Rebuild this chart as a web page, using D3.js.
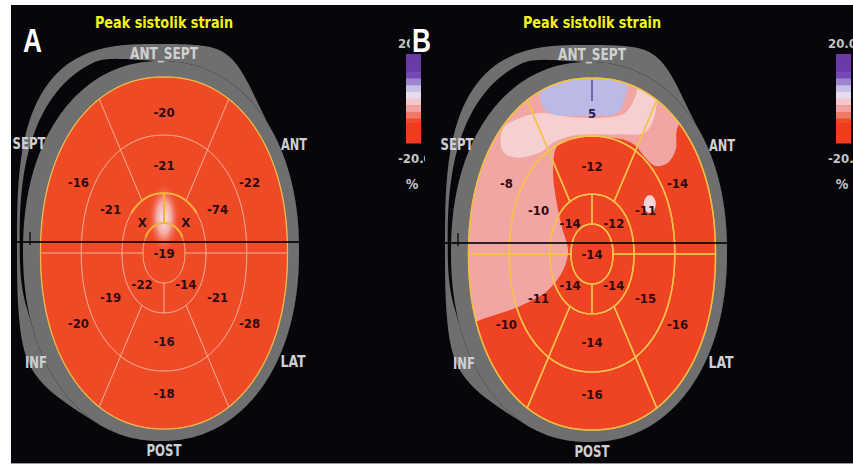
<!DOCTYPE html>
<html>
<head>
<meta charset="utf-8">
<script src="https://cdn.jsdelivr.net/npm/d3@7"></script>
<style>
  html, body { margin: 0; padding: 0; background: #fff; }
  svg { display: block; }
</style>
</head>
<body>
<div id="chart"></div>
<script>
// ---- data ----
const title = "Peak sistolik strain";
const panelNames = ["A", "B"];
const wallNames = ["ANT_SEPT", "ANT", "LAT", "POST", "INF", "SEPT"];
const wallAngles = [90, 30, -30, -90, -150, 150];     // centre of each basal / mid segment
const apicalAngles = [135, 45, -45, -135];
const ringRadii = [0.17, 0.34, 0.67, 1];               // apex, apical, mid, basal

// panel A (segment values, order follows wallAngles / apicalAngles)
const basalA = [-20, -22, -28, -18, -20, -16];
const midA = [-21, -74, -21, -16, -19, -21];
const apicalA = ["X", "X", -14, -22];
const apexA = -19;

// panel B
const basalB = [5, -14, -16, -16, -10, -8];
const midB = [-12, -11, -15, -14, -11, -10];
const apicalB = [-14, -12, -14, -14];
const apexB = -14;

// colour bar
const barTicks = ["20.0", "-20.0"];
const barEdges = [20, 12, 9, 6, 3, 0, -3, -6, -9, -11, -20];
const barColors = ["#6b3aa9", "#7648b6", "#9c86ce", "#c8bfe6", "#e6dcec",
                   "#f5c6c8", "#f2a2a2", "#ef7868", "#ee4a2a", "#ee3c1c"];

// strain patches seen in panel B, in normalised map coordinates (u, v)
const pinkPatch = [[-1.23, 1.22], [0.79, 1.22], [0.87, 0.875], [0.694, 0.722], [0.677, 0.591],
  [0.613, 0.517], [0.516, 0.5], [0.435, 0.545], [0.355, 0.614], [0.266, 0.648], [0.065, 0.665],
  [-0.161, 0.659], [-0.282, 0.614], [-0.315, 0.477], [-0.29, 0.307], [-0.242, 0.148],
  [-0.194, 0.023], [-0.226, -0.08], [-0.355, -0.205], [-0.581, -0.295], [-0.863, -0.364],
  [-1.23, -0.432]];
const palePatch = [[-0.718, 0.716], [-0.581, 0.773], [-0.403, 0.801], [-0.177, 0.778],
  [0.065, 0.773], [0.266, 0.801], [0.355, 0.903], [0.387, 1.05], [0.508, 1.05], [0.508, 0.79],
  [0.427, 0.69], [0.226, 0.68], [-0.137, 0.675], [-0.298, 0.64], [-0.419, 0.578],
  [-0.621, 0.548], [-0.726, 0.59]];
const lavenderPatch = [[-0.395, 1.05], [-0.41, 0.86], [-0.34, 0.80], [-0.016, 0.785],
  [0.2, 0.80], [0.258, 0.86], [0.26, 1.05]];
const paleSpot = [0.468, 0.284];
const glowA = [0, 0.2];

const panelData = [
  {basal: basalA, mid: midA, apical: apicalA, apex: apexA},
  {basal: basalB, mid: midB, apical: apicalB, apex: apexB}
];

// ---- layout ----
const W = 853, H = 466;
const layout = [
  {cx: 164, cy: 253, letterX: 23, barX: 406, red: "#ef4a26", line: "#fbb89c", lineW: 1, lineOp: 0.55},
  {cx: 592, cy: 254, letterX: 412, barX: 836, red: "#ee4424", line: "#f5c24a", lineW: 1.5, lineOp: 0.9}
];
const wallPos = {ANT_SEPT: [0, -199], ANT: [130, -108], LAT: [129, 109], POST: [0, 198], INF: [-128, 110], SEPT: [-135, -109]};
const wallLen = {ANT_SEPT: 68, ANT: 26, LAT: 25, POST: 35, INF: 22, SEPT: 33};
const narrow = "'Liberation Sans Narrow','DejaVu Sans Condensed','Arial Narrow',sans-serif";

const svg = d3.select("#chart").append("svg").attr("width", W).attr("height", H);
const defs = svg.append("defs");

svg.append("rect").attr("width", W).attr("height", H).attr("fill", "#fff");
svg.append("rect").attr("x", 11).attr("y", 5).attr("width", W - 11).attr("height", 458).attr("fill", "#07070b");
svg.append("line").attr("x1", 11).attr("x2", W).attr("y1", 463.5).attr("y2", 463.5)
  .attr("stroke", "#9a9a9a").attr("stroke-width", 1);

// superellipse direction for angle t (degrees)
function unit(t, n) {
  const a = t * Math.PI / 180, c = Math.cos(a), s = Math.sin(a);
  return [Math.sign(c) * Math.pow(Math.abs(c), 2 / n), Math.sign(s) * Math.pow(Math.abs(s), 2 / n)];
}
function smooth(k) { return k * k * (3 - 2 * k); }
function bump(t, a0, a1, b0, b1) {
  if (t <= a0 || t >= b1) return 0;
  if (t < a1) return smooth((t - a0) / (a1 - a0));
  if (t > b0) return smooth((b1 - t) / (b1 - b0));
  return 1;
}
const N_MAP = 2.15;
const line = d3.line();

panelNames.forEach((name, i) => {
  const L = layout[i], D = panelData[i];
  const g = svg.append("g");
  const x = d3.scaleLinear().domain([-1, 1]).range([L.cx - 123.5, L.cx + 123.5]);
  const y = d3.scaleLinear().domain([-1, 1]).range([L.cy + 176, L.cy - 176]);

  // grey rim: main ring and the outer shell on the upper left
  const mainGrey = t => { const p = unit(t, N_MAP); return [L.cx - 3 + 138 * p[0], L.cy - 2 - 190 * p[1]]; };
  const outerArc = t => { const p = unit(t, 3); return [L.cx - 4 + 143 * p[0], L.cy - 6 - 203 * p[1]]; };
  const ts = d3.range(0, 360, 1);
  const blend = (f) => ts.map(t => {
    const a = mainGrey(t), b = outerArc(t), k = f(t);
    return [a[0] + (b[0] - a[0]) * k, a[1] + (b[1] - a[1]) * k];
  });
  g.append("path").attr("d", line(blend(t => bump(t, 38, 80, 195, 245))) + "Z").attr("fill", "#6f6f6f");
  g.append("path").attr("d", line(blend(t => 0.58 * bump(t, 90, 112, 176, 202))) + "Z").attr("fill", "#07070b");
  g.append("path").attr("d", line(ts.map(mainGrey)) + "Z").attr("fill", "#6f6f6f");

  // segment geometry
  function sector(r0, r1, t0, t1) {
    const steps = Math.max(8, Math.round(Math.abs(t1 - t0) / 2));
    const pts = [];
    for (let k = 0; k <= steps; k++) {
      const p = unit(t0 + (t1 - t0) * k / steps, N_MAP);
      pts.push([x(p[0] * r1), y(p[1] * r1)]);
    }
    for (let k = steps; k >= 0 && r0 > 0; k--) {
      const p = unit(t0 + (t1 - t0) * k / steps, N_MAP);
      pts.push([x(p[0] * r0), y(p[1] * r0)]);
    }
    return line(pts) + "Z";
  }
  const segs = [];
  wallAngles.forEach((a, k) => {
    segs.push({d: sector(ringRadii[2], ringRadii[3], a - 30, a + 30), v: D.basal[k], a: a, r: 0.8});
    segs.push({d: sector(ringRadii[1], ringRadii[2], a - 30, a + 30), v: D.mid[k], a: a, r: 0.5});
  });
  apicalAngles.forEach((a, k) => {
    segs.push({d: sector(ringRadii[0], ringRadii[1], a - 45, a + 45), v: D.apical[k], a: a, r: 0.25});
  });
  segs.push({d: sector(0, ringRadii[0], 0, 360), v: D.apex, a: 0, r: 0});

  g.selectAll("path.seg").data(segs).join("path").attr("class", "seg")
    .attr("d", d => d.d).attr("fill", L.red);

  const clipId = "map" + name;
  defs.append("clipPath").attr("id", clipId).append("path").attr("d", sector(0, 1, 0, 360));
  const patches = g.append("g").attr("clip-path", `url(#${clipId})`);
  const blob = d3.line().x(d => x(d[0])).y(d => y(d[1])).curve(d3.curveCatmullRomClosed.alpha(0.5));

  if (name === "B") {
    patches.append("path").attr("d", blob(pinkPatch)).attr("fill", "#f1a6a4");
    patches.append("path").attr("d", blob(palePatch)).attr("fill", "#f6d0d0");
    patches.append("path").attr("d", blob(lavenderPatch)).attr("fill", "#bdb9e6");
    patches.append("ellipse").attr("cx", x(paleSpot[0])).attr("cy", y(paleSpot[1]))
      .attr("rx", 6).attr("ry", 9).attr("fill", "#f6d4d8");
    // marker inside the lavender patch
    patches.append("line").attr("x1", x(0)).attr("x2", x(0)).attr("y1", y(0.99)).attr("y2", y(0.87))
      .attr("stroke", "#5a4c9c").attr("stroke-width", 1.5);
  } else {
    const grad = defs.append("radialGradient").attr("id", "glowA");
    grad.append("stop").attr("offset", "0%").attr("stop-color", "#fff2f2").attr("stop-opacity", 0.95);
    grad.append("stop").attr("offset", "45%").attr("stop-color", "#f6b4b2").attr("stop-opacity", 0.9);
    grad.append("stop").attr("offset", "100%").attr("stop-color", L.red).attr("stop-opacity", 0);
    patches.append("ellipse").attr("cx", x(glowA[0])).attr("cy", y(glowA[1]))
      .attr("rx", 16).attr("ry", 36).attr("fill", "url(#glowA)");
  }

  // segment outlines
  g.selectAll("path.edge").data(segs).join("path").attr("class", "edge")
    .attr("d", d => d.d).attr("fill", "none")
    .attr("stroke", L.line).attr("stroke-width", L.lineW).attr("stroke-opacity", L.lineOp);
  g.append("path").attr("d", sector(0, 1, 0, 360)).attr("fill", "none")
    .attr("stroke", "#f0c040").attr("stroke-width", 1.2).attr("stroke-opacity", 0.9);

  if (name === "A") {
    const arc = (r, t0, t1) => line(d3.range(t0, t1 + 1, 2).map(t => {
      const p = unit(t, N_MAP); return [x(p[0] * r), y(p[1] * r)];
    }));
    const hl = g.append("g").attr("fill", "none").attr("stroke", "#f4b23c").attr("stroke-width", 2);
    hl.append("path").attr("d", arc(ringRadii[1], 40, 140));
    hl.append("path").attr("d", arc(ringRadii[0], 30, 150));
    hl.append("line").attr("x1", x(0)).attr("x2", x(0))
      .attr("y1", y(ringRadii[0])).attr("y2", y(ringRadii[1]));
  }

  // dark horizontal line and tick
  g.append("line").attr("x1", L.cx - 147).attr("x2", L.cx + 136)
    .attr("y1", L.cy - 11).attr("y2", L.cy - 11)
    .attr("stroke", "#000").attr("stroke-opacity", 0.8).attr("stroke-width", 2);
  g.append("line").attr("x1", L.cx - 134).attr("x2", L.cx - 134)
    .attr("y1", L.cy - 21).attr("y2", L.cy - 8)
    .attr("stroke", "#000").attr("stroke-opacity", 0.8).attr("stroke-width", 1.5);

  // segment values
  g.selectAll("text.val").data(segs).join("text").attr("class", "val")
    .attr("x", d => x(d.r * Math.cos(d.a * Math.PI / 180)))
    .attr("y", d => y(d.r * Math.sin(d.a * Math.PI / 180)))
    .attr("dy", "0.36em").attr("text-anchor", "middle")
    .attr("font-family", narrow).attr("font-weight", "bold").attr("font-size", 13)
    .attr("fill", d => (d.v > 0 ? "#1e1e50" : "#300a10"))
    .text(d => d.v);

  // wall names
  g.selectAll("text.wall").data(wallNames).join("text").attr("class", "wall")
    .attr("x", d => L.cx + wallPos[d][0]).attr("y", d => L.cy + wallPos[d][1])
    .attr("dy", "0.36em").attr("text-anchor", "middle")
    .attr("font-family", narrow).attr("font-weight", "bold").attr("font-size", 15)
    .attr("textLength", d => wallLen[d]).attr("lengthAdjust", "spacingAndGlyphs")
    .attr("fill", "#d0d0d0").text(d => d);

  // title
  g.append("text").attr("x", L.cx).attr("y", 28).attr("text-anchor", "middle")
    .attr("font-family", narrow).attr("font-weight", "bold").attr("font-size", 16)
    .attr("textLength", 138).attr("lengthAdjust", "spacingAndGlyphs")
    .attr("fill", "#f3f31c").text(title);

  // colour bar
  const cb = g.append("g");
  if (name === "A") {
    defs.append("clipPath").attr("id", "cbA").append("rect").attr("x", 0).attr("y", 0).attr("width", 425).attr("height", H);
    cb.attr("clip-path", "url(#cbA)");
  }
  const by = d3.scaleLinear().domain([20, -20]).range([54, 143]);
  cb.selectAll("rect").data(barColors).join("rect")
    .attr("x", L.barX).attr("width", 15)
    .attr("y", (d, k) => by(barEdges[k]))
    .attr("height", (d, k) => by(barEdges[k + 1]) - by(barEdges[k]) + 0.5)
    .attr("fill", d => d);
  cb.selectAll("text.tick").data(barTicks).join("text").attr("class", "tick")
    .attr("x", L.barX - 8).attr("y", (d, k) => (k === 0 ? by(20) - 11 : by(-20) + 15))
    .attr("dy", "0.36em")
    .attr("font-family", narrow).attr("font-weight", "bold").attr("font-size", 13)
    .attr("fill", "#c4c4c4").text(d => d);
  cb.append("text").attr("x", L.barX + 6).attr("y", 184).attr("dy", "0.36em").attr("text-anchor", "middle")
    .attr("font-family", narrow).attr("font-weight", "bold").attr("font-size", 14)
    .attr("fill", "#c4c4c4").text("%");
});

// panel letters (B sits over the colour bar label of panel A)
svg.append("rect").attr("x", 410).attr("y", 27).attr("width", 23).attr("height", 24).attr("fill", "#07070b");
svg.selectAll("text.letter").data(panelNames).join("text").attr("class", "letter")
  .attr("x", (d, k) => layout[k].letterX).attr("y", 52)
  .attr("font-family", "'Liberation Sans',Arial,sans-serif").attr("font-size", 34).attr("font-weight", "bold")
  .attr("textLength", 19).attr("lengthAdjust", "spacingAndGlyphs")
  .attr("fill", "#fff").text(d => d);
</script>
</body>
</html>
